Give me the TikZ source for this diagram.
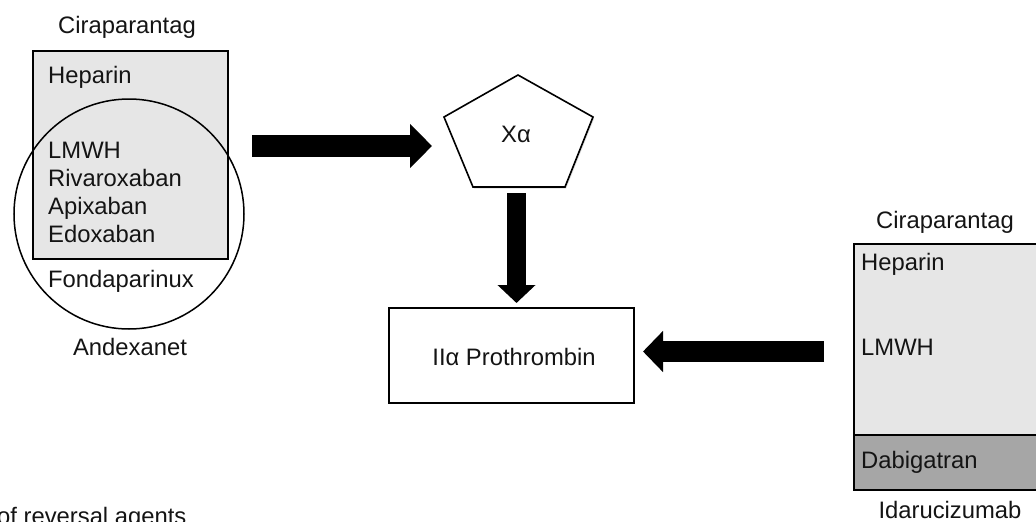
\documentclass[tikz,border=0pt]{standalone}
\usepackage{fontspec}
\setmainfont{Liberation Sans}
\usetikzlibrary{arrows.meta,shadows}
\definecolor{lightfill}{HTML}{E6E6E6}
\definecolor{darkfill}{HTML}{A6A6A6}
\definecolor{ink}{HTML}{141414}
\begin{document}
\begin{tikzpicture}[x=1pt,y=-1pt,
  txt/.style={inner sep=0pt, text=ink, font=\fontsize{23.8}{28}\selectfont},
  boxline/.style={draw=black, line width=1.6pt},
  soft/.style={drop shadow={shadow xshift=1.2pt, shadow yshift=-1.5pt, opacity=0.25}},
  blockarrow/.style={draw=none, line cap=butt, line width=#1}
]
\useasboundingbox (0,0) rectangle (1036,522);
\clip (0,0) rectangle (1036,522);

% ---------- left group ----------
\node[boxline, fill=lightfill, soft, minimum width=195, minimum height=208, anchor=north west, inner sep=0pt] (lbox) at (32,50) {};
\node[circle, draw=black, line width=1.5pt, minimum size=230, inner sep=0pt] (andcirc) at (129,214) {};
\node[txt, anchor=base] (lcira) at (127,33) {Ciraparantag};
\node[txt, anchor=base west] (lhep) at (48,83) {Heparin};
\node[txt, anchor=base west] (llmwh) at (48,158) {LMWH};
\node[txt, anchor=base west] (lriva) at (48,186) {Rivaroxaban};
\node[txt, anchor=base west] (lapix) at (48,214) {Apixaban};
\node[txt, anchor=base west] (ledox) at (48,242) {Edoxaban};
\node[txt, anchor=base west] (lfond) at (48,287) {Fondaparinux};
\node[txt, anchor=base] (landex) at (130,355) {Andexanet};

% ---------- Xa pentagon ----------
\coordinate (p1) at (518,75);
\coordinate (p2) at (593,117);
\coordinate (p3) at (565,187);
\coordinate (p4) at (473,187);
\coordinate (p5) at (444,117);
\draw[line width=1.6pt, fill=white, line join=miter, soft] (p1) -- (p2) -- (p3) -- (p4) -- (p5) -- cycle;
\node[txt, anchor=base] (xa) at (516,142) {Xα};

% ---------- Prothrombin box ----------
\node[boxline, fill=white, soft, minimum width=245, minimum height=95, anchor=north west, inner sep=0pt] (prot) at (388,307) {};
\node[txt, anchor=base] (protlbl) at (514,365) {IIα Prothrombin};

% ---------- right group ----------
\node[boxline, fill=lightfill, soft, minimum width=200, minimum height=191, anchor=north west, inner sep=0pt] (rbox) at (853,243) {};
\node[boxline, fill=darkfill, minimum width=200, minimum height=55, anchor=north west, inner sep=0pt] (dbox) at (853,434) {};
\node[txt, anchor=base] (rcira) at (945,228) {Ciraparantag};
\node[txt, anchor=base west] (rhep) at (861,270) {Heparin};
\node[txt, anchor=base west] (rlmwh) at (861,355) {LMWH};
\node[txt, anchor=base west] (rdabi) at (861,468) {Dabigatran};
\node[txt, anchor=base] (ridar) at (950,518) {Idarucizumab};

% ---------- caption fragment ----------
\node[txt, anchor=base west] (caption) at (-3,524) {of reversal agents};

% ---------- block arrows ----------
\coordinate (a1s) at (252,146);
\coordinate (a1e) at (432,146);
\draw[blockarrow=22pt, -{Triangle[length=22pt,width=43pt]}, draw=black] (a1s) -- (a1e);

\coordinate (a2s) at (516.5,193);
\coordinate (a2e) at (516.5,303);
\draw[blockarrow=19pt, -{Triangle[length=18pt,width=37pt]}, draw=black] (a2s) -- (a2e);

\coordinate (a3s) at (824,351.5);
\coordinate (a3e) at (643,351.5);
\draw[blockarrow=21pt, -{Triangle[length=20pt,width=40pt]}, draw=black] (a3s) -- (a3e);
\end{tikzpicture}
\end{document}
